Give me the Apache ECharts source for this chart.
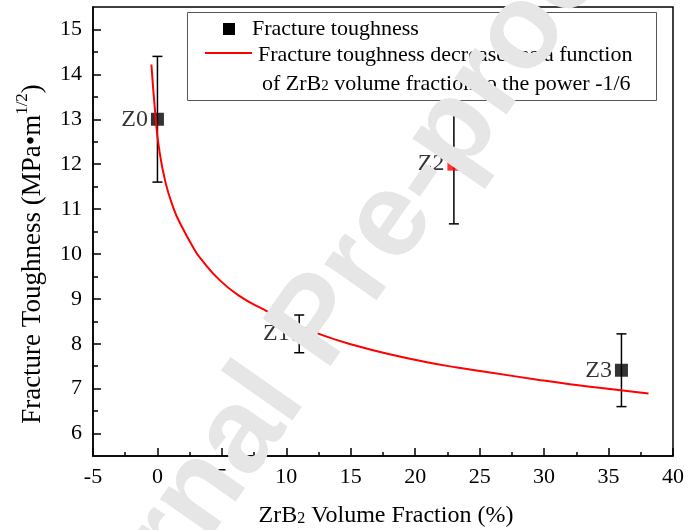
<!DOCTYPE html>
<html>
<head>
<meta charset="utf-8">
<script src="https://cdn.jsdelivr.net/npm/echarts@6/dist/echarts.min.js"></script>
<style>
  html, body { margin: 0; padding: 0; background: #fff; }
  #chart { width: 689px; height: 530px; }
</style>
</head>
<body>
<div id="chart"></div>
<script>
// Measured samples: ZrB2 volume fraction (%) vs fracture toughness (MPa·m^1/2)
const sampleNames = ['Z0', 'Z1', 'Z2', 'Z3'];
const sampleFraction = [0, 11, 23, 36];
const sampleToughness = [13.0, 8.22, 12.0, 7.41];
const toughnessLow = [11.6, 7.8, 10.67, 6.6];
const toughnessHigh = [14.4, 8.64, 13.33, 8.22];

// Fitted trend (toughness ~ fraction^-1/6)
const fitFraction = [-0.47, -0.16, 0.1, 0.62, 1.27, 1.8, 2.82, 3.34, 4.89, 6.44, 8.12, 10.3,
  12.9, 15.5, 18.1, 20.7, 23.25, 25.8, 29.5, 32.0, 34.6, 38.1];
const fitToughness = [14.22, 13.1, 12.4, 11.6, 11.0, 10.66, 10.12, 9.90, 9.40, 9.05, 8.78, 8.48,
  8.18, 7.95, 7.76, 7.60, 7.47, 7.36, 7.20, 7.10, 7.01, 6.89];

// Axis ticks
const yTickValues = [6, 7, 8, 9, 10, 11, 12, 13, 14, 15];
const yMinorTickValues = [6.5, 7.5, 8.5, 9.5, 10.5, 11.5, 12.5, 13.5, 14.5];

const SERIF = '"Liberation Serif", "Times New Roman", serif';
const highlighted = 'Z2';

const chart = echarts.init(document.getElementById('chart'), null, { renderer: 'canvas' });

const pointData = sampleNames.map((name, i) => ({
  name: name,
  value: [sampleFraction[i], sampleToughness[i]],
  itemStyle: { color: name === highlighted ? '#ff0000' : '#000' }
}));
const errorData = sampleNames.map((name, i) => [sampleFraction[i], toughnessLow[i], toughnessHigh[i]]);
const fitData = fitFraction.map((x, i) => [x, fitToughness[i]]);

const option = {
  animation: false,
  backgroundColor: '#fff',
  grid: {
    left: 93, right: 16, top: 7, bottom: 74,
    show: true, borderColor: '#000', borderWidth: 1.5, backgroundColor: 'transparent'
  },
  xAxis: {
    type: 'value', min: -5, max: 40, interval: 5,
    axisLine: { show: true, onZero: false, lineStyle: { color: '#000', width: 1.5 } },
    axisTick: { show: true, inside: true, length: 8, lineStyle: { color: '#000', width: 1.5 } },
    minorTick: { show: true, splitNumber: 2, length: 4, lineStyle: { color: '#000', width: 1.5 } },
    axisLabel: { color: '#000', fontFamily: SERIF, fontSize: 22, margin: 10 },
    splitLine: { show: false }
  },
  yAxis: [
    {
      type: 'value', min: 5.5, max: 15.5,
      axisLine: { show: true, onZero: false, lineStyle: { color: '#000', width: 1.5 } },
      axisTick: { show: true, inside: true, length: 8, customValues: yTickValues, lineStyle: { color: '#000', width: 1.5 } },
      axisLabel: { color: '#000', fontFamily: SERIF, fontSize: 22, margin: 11, customValues: yTickValues },
      splitLine: { show: false }
    },
    {
      type: 'value', min: 5.5, max: 15.5, position: 'left',
      axisLine: { show: false, onZero: false },
      axisTick: { show: true, inside: true, length: 5, customValues: yMinorTickValues, lineStyle: { color: '#000', width: 1.5 } },
      axisLabel: { show: false },
      splitLine: { show: false }
    }
  ],
  series: [
    {
      name: 'Error bars',
      type: 'custom',
      z: 2,
      data: errorData,
      renderItem: function (params, api) {
        const x = api.value(0);
        const lo = api.coord([x, api.value(1)]);
        const hi = api.coord([x, api.value(2)]);
        const cap = 5;
        const style = { stroke: '#000', lineWidth: 1.5 };
        return {
          type: 'group',
          children: [
            { type: 'line', shape: { x1: lo[0], y1: lo[1], x2: hi[0], y2: hi[1] }, style: style },
            { type: 'line', shape: { x1: lo[0] - cap, y1: lo[1], x2: lo[0] + cap, y2: lo[1] }, style: style },
            { type: 'line', shape: { x1: hi[0] - cap, y1: hi[1], x2: hi[0] + cap, y2: hi[1] }, style: style }
          ]
        };
      }
    },
    {
      name: 'Fracture toughness',
      type: 'scatter',
      z: 3,
      symbol: 'rect',
      symbolSize: 13,
      data: pointData,
      label: {
        show: true, position: 'left', distance: 3,
        formatter: p => p.name,
        color: '#000', fontFamily: SERIF, fontSize: 24
      }
    },
    {
      name: 'Fit',
      type: 'line',
      z: 4,
      smooth: 0.5,
      showSymbol: false,
      data: fitData,
      lineStyle: { color: '#ff0000', width: 2 }
    }
  ],
  graphic: [
    // y-axis title
    {
      type: 'text', x: 33, y: 254, rotation: Math.PI / 2, silent: true,
      style: {
        text: '{n|Fracture Toughness (MPa•m}{s|1/2}{n|)}',
        textAlign: 'center', textVerticalAlign: 'middle', align: 'center', verticalAlign: 'middle',
        fill: '#000',
        rich: {
          n: { fontFamily: SERIF, fontSize: 27, fill: '#000' },
          s: { fontFamily: SERIF, fontSize: 17, fill: '#000', padding: [0, 0, 20, 0] }
        }
      }
    },
    // x-axis title
    {
      type: 'text', x: 386, y: 516, silent: true,
      style: {
        text: '{n|ZrB}{s|2}{n| Volume Fraction (%)}',
        textAlign: 'center', textVerticalAlign: 'middle', align: 'center', verticalAlign: 'middle',
        fill: '#000',
        rich: {
          n: { fontFamily: SERIF, fontSize: 24, fill: '#000', verticalAlign: 'bottom' },
          s: { fontFamily: SERIF, fontSize: 16, fill: '#000', verticalAlign: 'bottom', padding: [0, 0, 1, 0] }
        }
      }
    },
    // legend
    {
      type: 'group', silent: true, z: 50,
      children: [
        { type: 'rect', shape: { x: 187.5, y: 12.5, width: 469, height: 88 }, style: { fill: '#fff', stroke: '#555', lineWidth: 1 } },
        { type: 'rect', shape: { x: 223, y: 23, width: 12, height: 12 }, style: { fill: '#000' } },
        {
          type: 'text', x: 252, y: 29,
          style: { text: 'Fracture toughness', font: '22px ' + SERIF, fill: '#000', textVerticalAlign: 'middle', verticalAlign: 'middle' }
        },
        { type: 'line', shape: { x1: 205, y1: 53, x2: 252, y2: 53 }, style: { stroke: '#ff0000', lineWidth: 2 } },
        {
          type: 'text', x: 258, y: 55,
          style: { text: 'Fracture toughness decreases as a function', font: '22px ' + SERIF, fill: '#000', textVerticalAlign: 'middle', verticalAlign: 'middle' }
        },
        {
          type: 'text', x: 262, y: 84,
          style: {
            text: '{n|of ZrB}{s|2}{n| volume fraction to the power -1/6}',
            fill: '#000', textVerticalAlign: 'middle', verticalAlign: 'middle',
            rich: {
              n: { fontFamily: SERIF, fontSize: 22, fill: '#000', verticalAlign: 'bottom' },
              s: { fontFamily: SERIF, fontSize: 15, fill: '#000', verticalAlign: 'bottom', padding: [0, 0, 1, 0] }
            }
          }
        }
      ]
    },
    // watermark
    {
      type: 'text', x: 31, y: 736, rotation: 0.96, silent: true, z: 100,
      style: {
        text: 'Journal Pre-proof',
        font: 'bold 120px "Liberation Sans", Arial, sans-serif',
        fill: '#e6e6e6',
        textAlign: 'left', textVerticalAlign: 'middle', align: 'left', verticalAlign: 'middle'
      }
    }
  ]
};

chart.setOption(option);
</script>
</body>
</html>
